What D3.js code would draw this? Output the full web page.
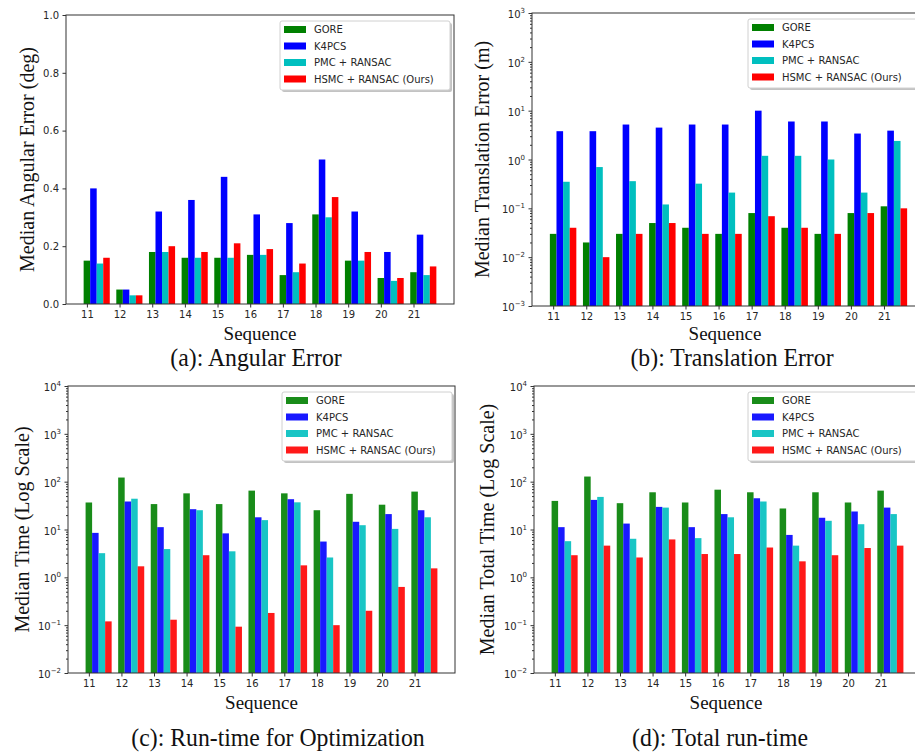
<!DOCTYPE html>
<html>
<head>
<meta charset="utf-8">
<script src="https://cdn.jsdelivr.net/npm/d3@7"></script>
<style>
  body { margin: 0; background: #fff; }
  svg { display: block; }
</style>
</head>
<body>
<div id="fig"></div>
<script>
// sequences on the x axis and the four methods in the legend
const sequences = ["11", "12", "13", "14", "15", "16", "17", "18", "19", "20", "21"];
const methods = ["GORE", "K4PCS", "PMC + RANSAC", "HSMC + RANSAC (Ours)"];
const colors = ["#008000", "#0000ff", "#00bfbf", "#ff0000"];

// (a) median angular error, deg -- one row per method
const angularError = [
  [0.15, 0.05, 0.18, 0.16, 0.16, 0.17, 0.10, 0.31, 0.15, 0.09, 0.11],
  [0.40, 0.05, 0.32, 0.36, 0.44, 0.31, 0.28, 0.50, 0.32, 0.18, 0.24],
  [0.14, 0.03, 0.18, 0.16, 0.16, 0.17, 0.11, 0.30, 0.15, 0.08, 0.10],
  [0.16, 0.03, 0.20, 0.18, 0.21, 0.19, 0.14, 0.37, 0.18, 0.09, 0.13]
];
// (b) median translation error, m
const translationError = [
  [0.03, 0.02, 0.03, 0.05, 0.04, 0.03, 0.08, 0.04, 0.03, 0.08, 0.11],
  [3.8, 3.8, 5.2, 4.5, 5.2, 5.2, 10, 6.0, 6.0, 3.4, 3.9],
  [0.35, 0.7, 0.36, 0.12, 0.32, 0.21, 1.19, 1.19, 1.0, 0.21, 2.4],
  [0.04, 0.01, 0.03, 0.05, 0.03, 0.03, 0.069, 0.04, 0.03, 0.08, 0.10]
];
// (c) median optimization time
const optimTime = [
  [36.7, 122, 34, 57, 34, 65, 57, 25.3, 55.6, 33, 62],
  [8.5, 38.5, 11.2, 26.6, 8.3, 18, 43, 5.6, 14.5, 21, 25.3],
  [3.2, 44, 3.9, 25.3, 3.5, 15.7, 37, 2.6, 12.3, 10.3, 18],
  [0.12, 1.7, 0.13, 2.9, 0.093, 0.18, 1.78, 0.1, 0.2, 0.63, 1.54]
];
// (d) median total time
const totalTime = [
  [39.6, 128, 35.5, 60, 36.7, 68, 60, 27.5, 60, 36.7, 65],
  [11.2, 41.6, 13.3, 29.7, 11.2, 21, 45, 7.7, 17.6, 23.8, 28.7],
  [5.7, 48, 6.4, 28.7, 6.6, 18, 38.5, 4.6, 15.2, 12.9, 21],
  [2.9, 4.6, 2.6, 6.2, 3.07, 3.07, 4.2, 2.16, 2.9, 4.1, 4.6]
];
const angularTicks = [0, 0.2, 0.4, 0.6, 0.8, 1.0];

const W = 915, H = 753;
const svg = d3.select("#fig").append("svg")
  .attr("width", W)
  .attr("height", H)
  .style("background", "#fff");

const tickFont = "'DejaVu Sans', sans-serif";
const serif = "'Liberation Serif', 'Times New Roman', serif";
const ink = "#262626";

function logTicks(lo, hi) {
  const major = d3.range(lo, hi + 1).map(k => Math.pow(10, k));
  const minor = [];
  for (let k = lo; k < hi; k++) {
    for (let m = 2; m <= 9; m++) minor.push(m * Math.pow(10, k));
  }
  return [major, minor];
}

function drawPanel(p) {
  const g = svg.append("g");
  const x = d3.scaleLinear().domain([-0.64, 11.24]).range([p.left, p.right]);
  const y = p.log
    ? d3.scaleLog().domain(p.yDomain).range([p.bottom, p.top])
    : d3.scaleLinear().domain(p.yDomain).range([p.bottom, p.top]);
  const bw = x(0.2) - x(0);

  // bars
  p.data.forEach((series, j) => {
    g.append("g").selectAll("rect")
      .data(series)
      .join("rect")
      .attr("x", (d, i) => x(i + j * 0.2 - 0.1))
      .attr("y", d => y(d))
      .attr("width", bw)
      .attr("height", d => p.bottom - y(d))
      .attr("fill", colors[j])
      .attr("fill-opacity", p.alpha);
  });

  // x axis
  const xa = g.append("g")
    .attr("transform", `translate(0,${p.bottom})`)
    .call(d3.axisBottom(x).tickValues(d3.range(sequences.length))
      .tickFormat(i => sequences[i]).tickSize(3.5).tickPadding(3.5).tickSizeOuter(0));
  xa.select(".domain").remove();

  // y axis
  if (p.log) {
    const [major, minor] = logTicks(Math.log10(p.yDomain[0]), Math.log10(p.yDomain[1]));
    const ym = g.append("g")
      .attr("transform", `translate(${p.left},0)`)
      .call(d3.axisLeft(y).tickValues(minor).tickSize(2).tickFormat(""));
    ym.select(".domain").remove();
    const ya = g.append("g")
      .attr("transform", `translate(${p.left},0)`)
      .call(d3.axisLeft(y).tickValues(major).tickSize(3.5).tickPadding(3.5).tickFormat(""));
    ya.select(".domain").remove();
    ya.selectAll(".tick text").each(function (d) {
      const t = d3.select(this).text(null);
      const e = Math.round(Math.log10(d));
      t.append("tspan").text("10");
      t.append("tspan").text(e < 0 ? "\u2212" + (-e) : String(e))
        .attr("font-size", 7).attr("dy", -5);
    });
    ya.selectAll(".tick text").attr("dy", "0.45em");
  } else {
    const ya = g.append("g")
      .attr("transform", `translate(${p.left},0)`)
      .call(d3.axisLeft(y).tickValues(angularTicks).tickFormat(d3.format(".1f"))
        .tickSize(3.5).tickPadding(3.5));
    ya.select(".domain").remove();
  }

  g.selectAll(".tick line").attr("stroke", "#333");
  g.selectAll(".tick text")
    .attr("font-family", tickFont)
    .attr("font-size", 10)
    .attr("fill", ink);

  // frame
  g.append("rect")
    .attr("x", p.left).attr("y", p.top)
    .attr("width", p.right - p.left).attr("height", p.bottom - p.top)
    .attr("fill", "none").attr("stroke", "#333").attr("stroke-width", 1);

  // legend
  const lg = g.append("g").attr("transform", `translate(${p.legend[0]},${p.legend[1]})`);
  lg.append("rect")
    .attr("x", 2).attr("y", 2).attr("width", p.legendW).attr("height", 69)
    .attr("rx", 2).attr("fill", "#888").attr("fill-opacity", 0.5);
  lg.append("rect")
    .attr("width", p.legendW).attr("height", 69)
    .attr("rx", 2).attr("fill", "#fff").attr("stroke", "#d0d0d0");
  methods.forEach((m, j) => {
    const cy = 8.5 + j * 16.5;
    lg.append("rect")
      .attr("x", 4).attr("y", cy - 3.5).attr("width", 22).attr("height", 7)
      .attr("fill", colors[j]).attr("fill-opacity", p.alpha);
    lg.append("text")
      .attr("x", 34).attr("y", cy).attr("dy", "0.36em")
      .attr("font-family", tickFont).attr("font-size", 10).attr("fill", ink)
      .text(m);
  });

  // labels
  const cx = (p.left + p.right) / 2;
  g.append("text")
    .attr("transform", `translate(${p.ylabelX},${(p.top + p.bottom) / 2}) rotate(-90)`)
    .attr("text-anchor", "middle").attr("dy", "0.35em")
    .attr("font-family", serif).attr("font-size", 20).attr("fill", "#111")
    .text(p.ylabel);
  g.append("text")
    .attr("x", p.xlabelX || cx).attr("y", p.xlabelY)
    .attr("text-anchor", "middle")
    .attr("font-family", serif).attr("font-size", 19).attr("fill", "#111")
    .text("Sequence");
  g.append("text")
    .attr("transform", `translate(${p.captionX || cx},${p.captionY}) scale(0.95,1.04)`)
    .attr("text-anchor", "middle")
    .attr("font-family", serif).attr("font-size", 25).attr("fill", "#111")
    .text(p.caption);
}

drawPanel({
  data: angularError, log: false, yDomain: [0, 1], alpha: 1,
  left: 66, right: 454, top: 15, bottom: 304,
  legend: [280, 21], legendW: 170,
  ylabel: "Median Angular Error (deg)", ylabelX: 27,
  xlabelY: 340, captionX: 256, captionY: 366, caption: "(a): Angular Error"
});
drawPanel({
  data: translationError, log: true, yDomain: [1e-3, 1e3], alpha: 1,
  left: 532, right: 925, top: 13, bottom: 306,
  legend: [748, 19], legendW: 175,
  ylabel: "Median Translation Error (m)", ylabelX: 482,
  xlabelX: 725, xlabelY: 340, captionX: 732, captionY: 366, caption: "(b): Translation Error"
});
drawPanel({
  data: optimTime, log: true, yDomain: [1e-2, 1e4], alpha: 0.9,
  left: 68, right: 455, top: 386, bottom: 673,
  legend: [282, 392], legendW: 170,
  ylabel: "Median Time (Log Scale)", ylabelX: 22,
  xlabelY: 709, captionX: 278, captionY: 746, caption: "(c): Run-time for Optimization"
});
drawPanel({
  data: totalTime, log: true, yDomain: [1e-2, 1e4], alpha: 0.9,
  left: 534, right: 921, top: 386, bottom: 673,
  legend: [748, 392], legendW: 170,
  ylabel: "Median Total Time (Log Scale)", ylabelX: 487,
  xlabelX: 726, xlabelY: 709, captionX: 720, captionY: 746, caption: "(d): Total run-time"
});
</script>
</body>
</html>
